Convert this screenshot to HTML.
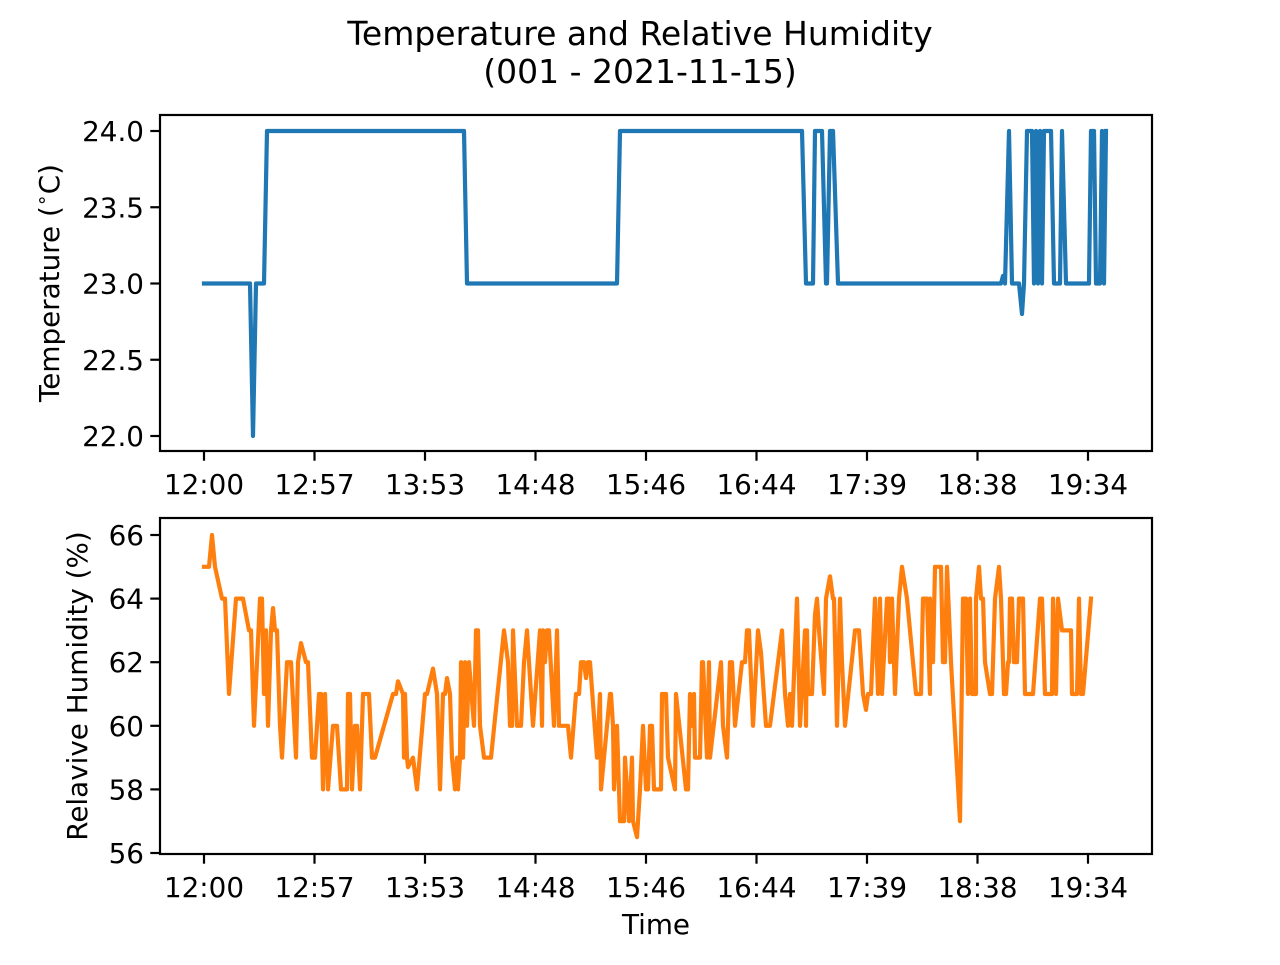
<!DOCTYPE html>
<html><head><meta charset="utf-8"><style>
body{margin:0;background:#fff}
svg text{font-family:"DejaVu Sans","Liberation Sans",sans-serif;fill:#000}
</style></head><body>
<svg id="fig" width="1280" height="960" xmlns="http://www.w3.org/2000/svg">
<text x="640" y="45" font-size="33" text-anchor="middle">Temperature and Relative Humidity</text>
<text x="640" y="83" font-size="33" text-anchor="middle">(001 - 2021-11-15)</text>
<g id="top"></g>
<g id="bot"></g>
</svg>
<script>
const tickLabels=["12:00","12:57","13:53","14:48","15:46","16:44","17:39","18:38","19:34"];
const tickPos=[0,110.5,221,331.5,442,552.5,663,773.5,884];
const tempT=[0,46,49,52,60,63,260,263,413,416,598,602,609,611,618,622,623,626,629,634,797,799,801,805,808,815,818,820,823,828,830,832,834,836,838,840,847,850,856,858,862,885,887,890,892,896,898,900,902];
const tempV=[23,23,22,23,23,24,24,23,23,24,24,23,23,24,24,23,23,24,24,23,23,23.05,23,24,23,23,22.8,23,24,24,23,24,23,24,23,24,24,23,23,24,23,23,24,24,23,23,24,23,24];
const humT=[0,5,8,11,18,21,25,32,37,39,45,47,50,56,58,60,62,64,67,69,71,73,76,78,83,87,92,94,97,102,104,108,111,115,117,119,121,124,129,133,137,143,144,146,148,151,153,156,159,165,168,171,189,192,194,199,200,201,203,204,209,213,221,223,229,233,236,239,241,243,246,248,251,253,254,256,257,259,261,263,265,270,272,274,276,280,287,300,304,306,308,309,313,317,320,323,329,336,338,339,341,343,345,350,353,355,364,367,372,375,377,380,382,384,386,393,396,397,406,407,409,410,413,416,420,421,425,428,429,433,436,439,442,444,446,448,450,457,458,462,464,471,472,482,484,486,488,490,491,496,498,499,503,505,506,517,519,523,526,528,531,538,541,543,545,549,554,557,562,566,578,581,584,586,588,593,596,601,602,603,604,608,611,613,615,620,622,626,629,630,633,636,638,641,651,655,659,662,664,667,671,674,676,678,683,685,686,688,691,695,698,703,703,712,717,719,723,726,726,729,731,737,739,741,743,747,756,759,762,764,764,766,768,772,772,775,777,779,781,786,788,791,795,797,800,802,804,805,806,808,810,813,815,819,821,829,836,838,841,848,849,852,854,858,867,868,873,875,877,879,887,889,890,893,895,897,900,903];
const humV=[65,65,66,65,64,64,61,64,64,64,63,63,60,64,64,61,63,60,63,63.7,63,63,60,59,62,62,59,62,62.6,62,62,59,59,61,61,58,61,58,60,60,58,58,61,61,58,60,60,58,61,61,59,59,61,61,61.4,61,59,61,59,58.7,59,58,61,61,61.8,61,58,61,61,61.5,61,59,58,59,58,59,62,59,62,60,62,60,63,63,60,59,59,63,62,60,60,63,60,60,62,63,60,63,60,63,62,63,63,60,63,60,60,59,61,61,62,62,61.5,62,62,59,61,58,61,61,60,58,60,57,57,59,57,59,57,56.5,58,60,58,58,60,60,58,58,61,61,59,58,61,58,58,61,60,61,59,59,62,62,59,62,59,62,60,59,62,62,60,62,62,63,63,60,63,62.3,60,60,63,61,60,61,60,64,60,63,60,63,61,61,63.5,64,63,61,64,64.7,64,64,60,64,62,60,63,63,61,60.5,61,61,64,61,64,61,64,64,62,64,61,64,65,64,64,61,61,64,64,61,64,62,65,65,62,62,65,62,57,64,64,61,61,64,61,61,64,65,64,64,62,61,61,64,65,64,61,61,62,62,64,64,62,62,64,64,61,61,64,64,61,61,64,61,64,63,63,61,61,64,61,61,64];
const NS="http://www.w3.org/2000/svg";
function mk(tag,attrs,parent){const e=document.createElementNS(NS,tag);for(const k in attrs)e.setAttribute(k,attrs[k]);parent.appendChild(e);return e;}
function panel(g,top,bottom,ymin,ymax,yTicks,yFmt,ts,vs,color,ylabel,labelX){
  const L=160,R=1152,x0=204;
  const yPix0=(top===115)?436:853, yPix1=(top===115)?131:535;
  const sx=t=>x0+t;
  const sy=v=>yPix0+(v-ymin)*(yPix1-yPix0)/(ymax-ymin);
  let d="";
  for(let i=0;i<ts.length;i++)d+=(i?"L":"M")+sx(ts[i]).toFixed(1)+","+sy(vs[i]).toFixed(1);
  const line=mk("path",{d:d,fill:"none",stroke:color,"stroke-width":4.2,"stroke-linejoin":"round","stroke-linecap":"square"},g);
  
  
  const frame=mk("rect",{x:L,y:top,width:R-L,height:bottom-top,fill:"none",stroke:"#000","stroke-width":2.2},g);
  
  
  tickPos.forEach((p,i)=>{
    const tk=mk("line",{x1:sx(p),x2:sx(p),y1:bottom,y2:bottom+9.7,stroke:"#000","stroke-width":2.2},g);
    
    
    const tl=mk("text",{x:sx(p),y:bottom+43,"font-size":27.8,"text-anchor":"middle"},g);
    tl.textContent=tickLabels[i];
    
    
  });
  yTicks.forEach(v=>{
    const tk=mk("line",{x1:L-9.7,x2:L,y1:sy(v),y2:sy(v),stroke:"#000","stroke-width":2.2},g);
    
    
    const tl=mk("text",{x:L-16,y:sy(v)+10,"font-size":27.8,"text-anchor":"end"},g);
    tl.textContent=yFmt(v);
    
    
  });
  const yl=mk("text",{x:0,y:0,"font-size":27.8,"text-anchor":"middle",transform:`translate(${labelX},${(top+bottom)/2}) rotate(-90)`},g);
  yl.innerHTML=ylabel;
  
  
}
panel(document.getElementById("top"),115,451,22,24,[22,22.5,23,23.5,24],v=>v.toFixed(1),tempT,tempV,"#1f77b4",'Temperature (<tspan baseline-shift="super" font-size="19">∘</tspan>C)',59);
panel(document.getElementById("bot"),518,854,56,66,[56,58,60,62,64,66],v=>String(v),humT,humV,"#ff7f0e","Relavive Humidity (%)",87);
const xt=mk("text",{x:656,y:934,"font-size":27.8,"text-anchor":"middle"},document.getElementById("fig"));
xt.textContent="Time";


</script>
</body></html>
